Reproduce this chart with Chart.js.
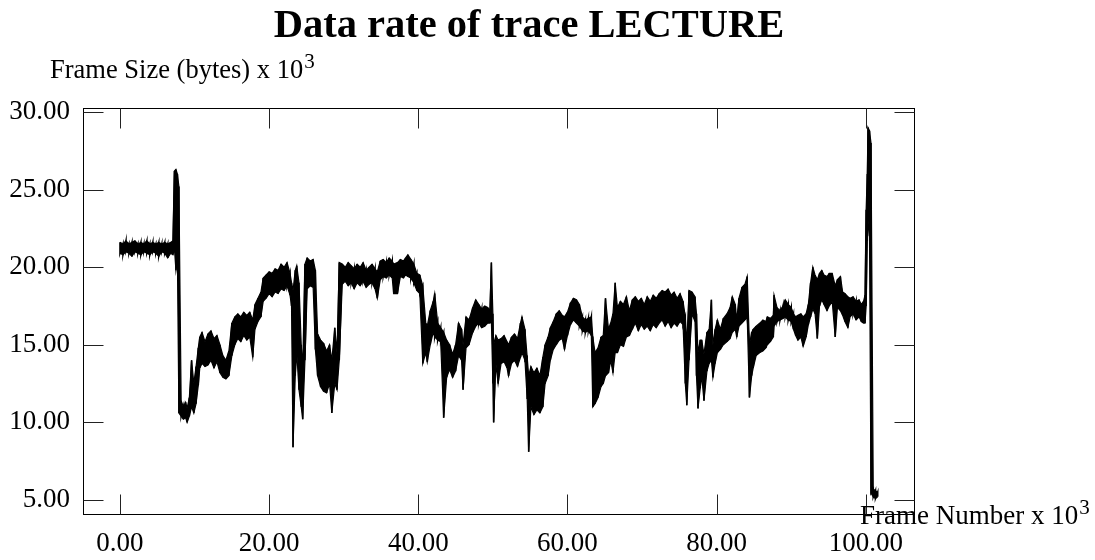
<!DOCTYPE html>
<html>
<head>
<meta charset="utf-8">
<title>Data rate of trace LECTURE</title>
<script src="https://cdn.jsdelivr.net/npm/chart.js@4.4.1/dist/chart.umd.min.js"></script>
<style>
  html, body { margin: 0; padding: 0; background: #fff; }
  canvas { display: block; }
</style>
</head>
<body>
<canvas id="c" width="1095" height="560"></canvas>
<script>
// Frame number (thousands) and the upper / lower edge of the frame-size trace (KB) at that frame.
const frameK = [
  0.0,0.4,0.8,1.2,1.6,2.0,2.4,2.8,3.2,3.6,
  4.0,4.4,4.8,5.2,5.6,6.0,6.4,6.8,7.1,7.3,
  7.5,7.7,7.9,8.2,8.5,8.8,9.0,9.3,9.6,9.9,
  10.2,10.5,10.7,11.0,11.4,11.8,12.2,12.6,13.0,13.4,
  13.8,14.2,14.6,15.0,15.4,15.8,16.2,16.6,17.0,17.4,
  17.8,18.1,18.5,18.9,19.2,19.6,20.0,20.4,20.8,21.2,
  21.6,22.0,22.4,22.8,23.0,23.2,23.5,23.7,24.0,24.3,
  24.5,24.8,25.1,25.5,25.9,26.2,26.5,26.9,27.3,27.7,
  28.1,28.4,28.8,29.1,29.4,29.8,30.2,30.6,31.0,31.4,
  31.8,32.2,32.6,33.0,33.4,33.8,34.2,34.5,34.9,35.3,
  35.7,36.1,36.5,36.7,37.2,37.6,38.0,38.3,38.6,39.0,
  39.4,39.8,40.2,40.6,41.0,41.2,41.6,42.0,42.2,42.6,
  43.0,43.4,43.8,44.2,44.6,45.0,45.4,45.8,46.0,46.4,
  46.8,47.3,47.7,48.1,48.5,48.9,49.3,49.6,49.8,50.0,
  50.1,50.4,50.7,51.1,51.5,51.9,52.1,52.5,52.9,53.3,
  53.7,53.9,54.3,54.6,54.8,55.1,55.5,55.9,56.3,56.7,
  57.0,57.4,57.7,58.1,58.5,58.9,59.3,59.6,60.0,60.4,
  60.8,61.2,61.6,62.0,62.4,62.8,63.2,63.4,63.7,64.1,
  64.5,64.8,65.1,65.5,65.8,66.1,66.4,66.7,67.1,67.5,
  67.9,68.3,68.7,69.1,69.5,69.9,70.3,70.7,71.1,71.5,
  71.9,72.3,72.7,73.1,73.5,73.9,74.3,74.7,75.1,75.5,
  75.8,76.0,76.3,76.7,77.1,77.3,77.5,77.8,78.0,78.3,
  78.7,79.0,79.3,79.5,79.8,80.1,80.5,80.9,81.4,81.8,
  82.1,82.5,82.7,83.0,83.4,83.8,84.1,84.4,84.7,84.9,
  85.3,85.8,86.2,86.6,86.8,87.2,87.6,87.7,88.1,88.5,
  88.9,89.2,89.6,90.0,90.3,90.6,90.9,91.3,91.6,92.0,
  92.3,92.6,92.9,93.2,93.5,93.8,94.1,94.4,94.8,95.1,
  95.5,95.9,96.2,96.6,96.9,97.2,97.6,97.9,98.3,98.7,
  99.1,99.4,99.7,99.9,100.05,100.2,100.3,100.5,100.7,101.0,
  101.3,101.6
];
const sizeHigh = [
  21.6,21.5,21.7,21.5,21.6,21.7,21.5,21.6,21.5,21.7,
  21.5,21.6,21.5,21.6,21.5,21.6,21.5,21.6,21.7,26.2,
  26.3,26.0,25.2,11.4,11.0,11.3,10.9,11.6,14.0,12.5,
  13.6,14.8,15.5,15.8,15.2,15.7,15.9,15.4,15.6,15.0,
  14.3,14.0,14.6,16.4,16.8,17.0,16.8,17.1,16.9,17.1,
  16.6,17.6,18.0,18.4,19.3,19.5,19.7,19.6,19.9,19.8,
  20.2,20.0,20.3,19.6,19.0,18.5,19.8,20.1,19.0,15.0,
  13.5,20.2,20.6,20.4,20.5,19.8,15.7,15.3,15.1,14.6,
  15.0,14.0,16.1,14.5,20.3,20.2,20.0,20.3,20.1,19.9,
  20.2,20.0,20.3,19.8,20.0,20.2,19.9,19.7,20.4,20.5,
  20.3,20.6,20.4,20.2,20.3,20.5,20.4,20.6,20.8,20.5,
  20.2,19.6,19.5,18.8,16.4,16.2,17.2,17.8,18.3,16.4,
  16.1,15.8,15.3,15.0,14.4,15.0,16.4,16.0,15.0,16.8,
  16.6,17.4,17.9,17.6,17.3,17.5,17.4,17.2,20.3,17.0,
  15.0,15.6,15.3,15.4,15.6,15.2,15.0,15.5,15.7,15.4,
  16.4,16.8,16.0,14.2,13.0,13.6,13.2,13.5,13.0,14.2,
  15.0,15.5,16.1,16.5,17.0,17.2,16.9,16.8,17.1,17.7,
  18.0,17.9,17.6,16.8,16.6,16.7,16.8,15.5,14.5,14.8,
  15.5,15.6,18.0,16.0,16.4,17.0,19.0,17.4,17.8,17.6,
  18.1,17.2,17.9,18.1,17.8,18.0,17.6,18.1,17.8,18.2,
  18.0,18.3,18.5,18.4,18.6,18.2,18.4,18.0,18.3,17.8,
  16.8,15.0,18.5,18.4,18.1,17.0,14.5,15.3,15.3,14.4,
  15.8,16.0,17.9,15.0,16.0,16.6,16.0,16.7,17.0,17.4,
  18.1,17.6,16.6,18.0,18.7,18.9,19.4,15.0,15.8,16.0,
  16.2,16.4,16.6,16.5,16.8,16.7,16.9,18.2,17.4,17.2,
  17.5,17.9,17.6,17.4,17.0,16.8,16.9,17.0,16.8,17.0,
  17.6,19.0,20.0,19.5,19.2,19.6,19.8,19.5,19.4,19.6,
  19.6,18.8,19.2,19.4,18.4,18.3,18.1,18.0,18.1,17.8,
  17.9,17.6,17.8,18.2,23.7,26.0,29.0,28.8,28.0,5.7,
  5.6,5.5
];
const sizeLow = [
  20.9,20.8,21.0,20.9,20.7,21.0,20.9,20.8,21.0,20.9,
  20.8,21.0,20.9,20.7,21.0,20.9,20.6,20.9,20.8,21.2,
  19.8,20.5,10.6,10.4,10.2,10.3,10.0,10.4,11.0,10.6,
  11.2,12.4,13.5,13.8,13.6,13.7,14.0,13.5,13.9,13.2,
  12.9,12.8,13.0,14.3,15.0,15.4,15.2,15.6,15.3,15.5,
  14.2,16.0,16.5,16.8,17.8,18.0,18.3,18.1,18.4,18.3,
  18.6,18.5,18.8,18.2,17.5,8.4,13.0,14.5,12.1,11.0,
  10.2,14.0,18.6,18.8,18.7,14.7,13.0,12.3,12.0,11.9,
  12.5,10.6,12.5,12.1,14.0,18.9,19.1,18.8,19.0,18.6,
  19.0,18.8,19.1,18.7,18.9,19.0,18.6,18.0,19.2,19.4,
  19.3,19.5,19.3,18.3,18.3,19.4,19.3,19.5,19.4,19.3,
  19.0,18.5,18.3,13.8,14.5,13.9,15.0,15.8,15.5,15.3,
  15.2,10.3,12.9,13.4,12.9,13.3,14.3,14.0,12.1,14.8,
  15.0,15.8,16.2,16.4,16.1,16.2,16.4,16.4,16.5,12.5,
  10.0,13.8,12.5,13.8,13.9,13.5,13.0,13.8,14.0,13.6,
  14.2,14.5,14.0,11.5,8.1,11.0,10.5,10.8,10.6,11.0,
  12.5,13.0,14.0,14.7,15.0,15.3,15.4,14.7,15.6,16.3,
  16.6,16.4,16.2,15.9,15.8,15.9,15.6,11.0,11.2,11.6,
  12.3,12.5,13.0,13.2,14.0,13.2,14.5,14.5,15.0,14.9,
  15.5,15.6,16.0,16.4,15.9,16.3,16.0,16.2,15.9,16.3,
  16.1,16.4,16.6,16.2,16.5,16.1,16.4,16.2,16.5,16.3,
  12.5,11.1,14.0,17.0,16.5,13.0,10.9,12.2,13.0,11.4,
  13.3,13.8,14.0,12.9,13.8,14.5,14.7,15.0,15.2,15.4,
  15.8,16.0,15.5,16.2,16.4,16.6,16.8,11.6,13.0,13.5,
  14.3,14.5,14.6,14.8,15.0,15.2,15.5,16.2,16.5,16.6,
  16.7,16.8,16.6,16.5,16.0,15.6,15.3,15.5,14.9,15.5,
  16.3,16.8,17.3,17.0,15.4,17.5,17.9,17.6,17.2,17.5,
  17.8,15.5,17.4,17.2,16.9,16.5,16.1,16.8,17.0,16.6,
  16.8,16.5,16.4,16.4,17.5,21.7,23.0,22.0,5.45,5.2,
  5.1,5.2
];

// Axis ticks
const xTicks = [0, 20, 40, 60, 80, 100];
const yTicks = [5, 10, 15, 20, 25, 30];

const SERIF = '"Liberation Serif", "Times New Roman", Times, serif';

// Edges of the band and a sweep between them at every frame.
const upperEdge = frameK.map((f, i) => ({ x: f, y: sizeHigh[i] }));
const lowerEdge = frameK.map((f, i) => ({ x: f, y: sizeLow[i] }));
const sweep = [];
frameK.forEach((f, i) => {
  sweep.push({ x: f, y: sizeHigh[i] });
  sweep.push({ x: f, y: sizeLow[i] });
});

// Frame box, inward tick marks on all four sides, title and axis captions.
const framePlugin = {
  id: 'framePlugin',
  afterDraw(chart) {
    const { ctx, chartArea: a, scales: { x, y } } = chart;
    const L = Math.round(a.left) + 0.5, R = Math.round(a.right) - 0.5;
    const T = Math.round(a.top) + 0.5, B = Math.round(a.bottom) - 0.5;
    const tick = 20;
    ctx.save();
    ctx.lineWidth = 1;
    ctx.strokeStyle = '#000';
    ctx.strokeRect(L, T, R - L, B - T);

    ctx.strokeStyle = '#222';
    ctx.beginPath();
    yTicks.forEach(v => {
      const py = Math.round(y.getPixelForValue(v)) + 0.5;
      ctx.moveTo(L, py); ctx.lineTo(L + tick, py);
      ctx.moveTo(R - tick, py); ctx.lineTo(R, py);
    });
    xTicks.forEach(v => {
      const px = Math.round(x.getPixelForValue(v)) + 0.5;
      ctx.moveTo(px, B); ctx.lineTo(px, B - tick);
      ctx.moveTo(px, T); ctx.lineTo(px, T + tick);
    });
    ctx.stroke();

    ctx.fillStyle = '#000';
    ctx.textBaseline = 'alphabetic';

    ctx.font = 'bold 40.5px ' + SERIF;
    ctx.textAlign = 'center';
    ctx.fillText('Data rate of trace LECTURE', 529, 37);

    ctx.textAlign = 'left';
    const caption = (text, cx, cy, size) => {
      ctx.font = size + 'px ' + SERIF;
      ctx.fillText(text, cx, cy);
      const w = ctx.measureText(text).width;
      ctx.font = '21px ' + SERIF;
      ctx.fillText('3', cx + w + 1, cy - 10);
    };
    caption('Frame Size (bytes) x 10', 50, 78, 26.5);
    caption('Frame Number x 10', 860, 524, 27);
    ctx.restore();
  }
};

const lineStyle = { borderColor: '#000', pointRadius: 0, tension: 0 };

new Chart(document.getElementById('c'), {
  type: 'line',
  data: {
    datasets: [
      { ...lineStyle, data: upperEdge, borderWidth: 1.2, fill: '+1', backgroundColor: '#000' },
      { ...lineStyle, data: lowerEdge, borderWidth: 1.2, fill: false },
      { ...lineStyle, data: sweep, borderWidth: 1.6, fill: false }
    ]
  },
  options: {
    responsive: false,
    animation: false,
    devicePixelRatio: 1,
    layout: { padding: { top: 108, right: 180, left: 0, bottom: 0 } },
    plugins: { legend: { display: false }, tooltip: { enabled: false }, title: { display: false } },
    scales: {
      x: {
        type: 'linear',
        min: -4.96,
        max: 106.6,
        grid: { display: false, drawTicks: false },
        border: { display: false },
        afterBuildTicks: s => { s.ticks = xTicks.map(v => ({ value: v })); },
        afterFit: s => { s.height = 45; },
        ticks: {
          color: '#000',
          font: { family: SERIF, size: 27 },
          padding: 13,
          autoSkip: false,
          maxRotation: 0,
          callback: v => Number(v).toFixed(2)
        }
      },
      y: {
        type: 'linear',
        min: 4.03,
        max: 30.26,
        grid: { display: false, drawTicks: false },
        border: { display: false },
        afterBuildTicks: s => { s.ticks = yTicks.map(v => ({ value: v })); },
        afterFit: s => { s.width = 83; },
        ticks: {
          color: '#000',
          font: { family: SERIF, size: 27 },
          padding: 13,
          autoSkip: false,
          callback: v => Number(v).toFixed(2)
        }
      }
    }
  },
  plugins: [framePlugin]
});
</script>
</body>
</html>
